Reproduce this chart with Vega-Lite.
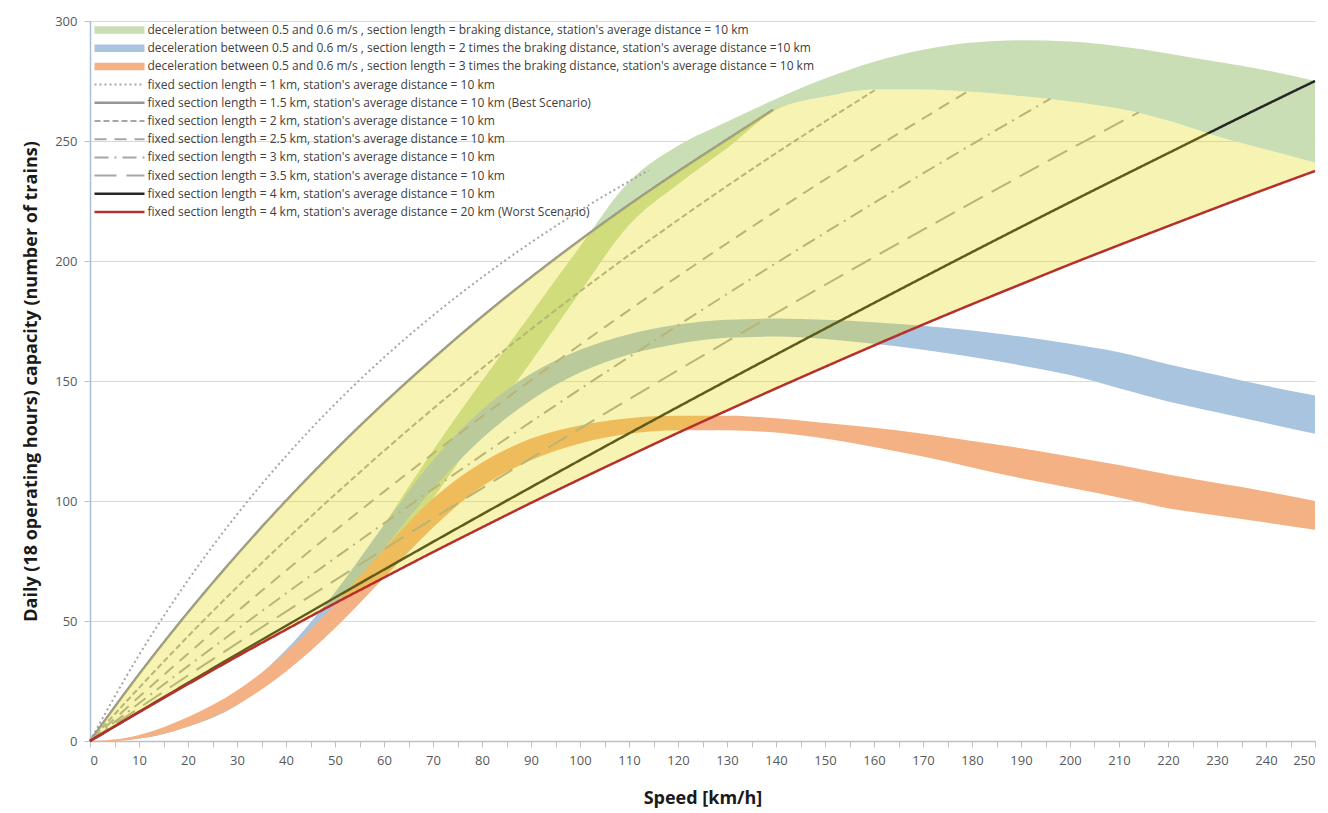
{
  "$schema": "https://vega.github.io/schema/vega-lite/v6.json",
  "width": 1225,
  "height": 720,
  "autosize": {"type": "none"},
  "padding": {"left": 90, "top": 21, "right": 13, "bottom": 72},
  "background": "white",
  "config": {
    "view": {"stroke": null},
    "font": "Open Sans",
    "legend": {"title": null, "orient": "top-left", "offset": 0, "symbolType": "M-3,0H3", "symbolSize": 278, "symbolOffset": 20.5,
      "labelOffset": 22, "labelFontSize": 12, "labelFont": "Open Sans", "labelColor": "#404040", "labelLimit": 900, "rowPadding": 6.2, "padding": 3}
  },
  "datasets": {
    "bands": [
      {"s":"g","v":0,"lo":0,"hi":0},{"s":"g","v":10,"lo":1,"hi":1.5},{"s":"g","v":20,"lo":6,"hi":8},{"s":"g","v":30,"lo":15,"hi":19},{"s":"g","v":40,"lo":31,"hi":36},{"s":"g","v":50,"lo":49,"hi":58},{"s":"g","v":60,"lo":73,"hi":90},{"s":"g","v":70,"lo":101,"hi":121},{"s":"g","v":80,"lo":130,"hi":150},{"s":"g","v":90,"lo":158,"hi":178},{"s":"g","v":100,"lo":187,"hi":206},{"s":"g","v":110,"lo":215,"hi":233},{"s":"g","v":120,"lo":232,"hi":248},{"s":"g","v":130,"lo":247,"hi":258},{"s":"g","v":140,"lo":263,"hi":267.5},{"s":"g","v":150,"lo":268.5,"hi":276},{"s":"g","v":160,"lo":271.5,"hi":283},{"s":"g","v":170,"lo":271.5,"hi":288},{"s":"g","v":180,"lo":270.5,"hi":291},{"s":"g","v":190,"lo":268.7,"hi":292},{"s":"g","v":200,"lo":266.5,"hi":291.5},{"s":"g","v":210,"lo":263.5,"hi":289.5},{"s":"g","v":220,"lo":258.5,"hi":286.5},{"s":"g","v":230,"lo":252,"hi":283},{"s":"g","v":240,"lo":246.5,"hi":279.5},{"s":"g","v":250,"lo":241,"hi":275},
      {"s":"b","v":0,"lo":0,"hi":0},{"s":"b","v":10,"lo":1,"hi":2},{"s":"b","v":20,"lo":6,"hi":8.5},{"s":"b","v":30,"lo":15,"hi":20},{"s":"b","v":40,"lo":33,"hi":38},{"s":"b","v":50,"lo":53,"hi":62},{"s":"b","v":60,"lo":80,"hi":90},{"s":"b","v":70,"lo":105,"hi":117},{"s":"b","v":80,"lo":126,"hi":138},{"s":"b","v":90,"lo":142,"hi":153},{"s":"b","v":100,"lo":153.5,"hi":163},{"s":"b","v":110,"lo":161,"hi":169.5},{"s":"b","v":120,"lo":165.5,"hi":173.5},{"s":"b","v":130,"lo":168,"hi":175.5},{"s":"b","v":140,"lo":168.5,"hi":176},{"s":"b","v":150,"lo":167.5,"hi":175.5},{"s":"b","v":160,"lo":165.5,"hi":174.5},{"s":"b","v":170,"lo":163,"hi":173},{"s":"b","v":180,"lo":160,"hi":171},{"s":"b","v":190,"lo":156.5,"hi":168.5},{"s":"b","v":200,"lo":152.5,"hi":165.5},{"s":"b","v":210,"lo":147,"hi":162},{"s":"b","v":220,"lo":141.5,"hi":157},{"s":"b","v":230,"lo":137,"hi":152.5},{"s":"b","v":240,"lo":132.5,"hi":148},{"s":"b","v":250,"lo":128,"hi":144},
      {"s":"o","v":0,"lo":0,"hi":0},{"s":"o","v":5,"lo":0,"hi":0.5},{"s":"o","v":10,"lo":1,"hi":2.5},{"s":"o","v":20,"lo":6,"hi":10},{"s":"o","v":30,"lo":15,"hi":21},{"s":"o","v":40,"lo":29,"hi":37},{"s":"o","v":50,"lo":47,"hi":57},{"s":"o","v":60,"lo":68,"hi":80},{"s":"o","v":70,"lo":89,"hi":101},{"s":"o","v":80,"lo":106,"hi":116},{"s":"o","v":90,"lo":117,"hi":126},{"s":"o","v":100,"lo":124,"hi":131.5},{"s":"o","v":110,"lo":128,"hi":134.5},{"s":"o","v":120,"lo":129.5,"hi":135.5},{"s":"o","v":130,"lo":129.5,"hi":135.5},{"s":"o","v":140,"lo":128.5,"hi":134.5},{"s":"o","v":150,"lo":126,"hi":132.5},{"s":"o","v":160,"lo":122.5,"hi":130.5},{"s":"o","v":170,"lo":118.5,"hi":128},{"s":"o","v":180,"lo":114,"hi":125},{"s":"o","v":190,"lo":109.5,"hi":122},{"s":"o","v":200,"lo":105.5,"hi":118.5},{"s":"o","v":210,"lo":101.5,"hi":115},{"s":"o","v":220,"lo":97,"hi":111},{"s":"o","v":230,"lo":94,"hi":107.5},{"s":"o","v":240,"lo":91,"hi":104},{"s":"o","v":250,"lo":88,"hi":100}
    ],
    "lines": [
      {"s":"l1","v":0,"lo":0},{"s":"l1","v":10,"lo":35.8},{"s":"l1","v":20,"lo":67},{"s":"l1","v":30,"lo":94.4},{"s":"l1","v":40,"lo":118.7},{"s":"l1","v":50,"lo":140.4},{"s":"l1","v":60,"lo":159.8},{"s":"l1","v":70,"lo":177.3},{"s":"l1","v":80,"lo":193.2},{"s":"l1","v":90,"lo":207.7},{"s":"l1","v":100,"lo":221},{"s":"l1","v":110,"lo":233.2},{"s":"l1","v":114,"lo":237.8},
      {"s":"l15","v":0,"lo":0},{"s":"l15","v":10,"lo":27.8},{"s":"l15","v":20,"lo":53.6},{"s":"l15","v":30,"lo":77.6},{"s":"l15","v":40,"lo":100.1},{"s":"l15","v":50,"lo":121.1},{"s":"l15","v":60,"lo":140.8},{"s":"l15","v":70,"lo":159.3},{"s":"l15","v":80,"lo":176.8},{"s":"l15","v":90,"lo":193.2},{"s":"l15","v":100,"lo":208.7},{"s":"l15","v":110,"lo":223.4},{"s":"l15","v":120,"lo":237.3},{"s":"l15","v":130,"lo":250.6},{"s":"l15","v":139.4,"lo":263},
      {"s":"l2","v":0,"lo":0},{"s":"l2","v":20,"lo":43.6},{"s":"l2","v":40,"lo":83.8},{"s":"l2","v":60,"lo":120.9},{"s":"l2","v":80,"lo":155.3},{"s":"l2","v":100,"lo":187.3},{"s":"l2","v":120,"lo":217.1},{"s":"l2","v":140,"lo":244.9},{"s":"l2","v":160.5,"lo":271.6},
      {"s":"l25","v":0,"lo":0},{"s":"l25","v":20,"lo":36.4},{"s":"l25","v":40,"lo":71},{"s":"l25","v":60,"lo":103.9},{"s":"l25","v":80,"lo":135.2},{"s":"l25","v":100,"lo":165.1},{"s":"l25","v":120,"lo":193.6},{"s":"l25","v":140,"lo":220.8},{"s":"l25","v":160,"lo":246.8},{"s":"l25","v":179,"lo":270.5},
      {"s":"l3","v":0,"lo":0},{"s":"l3","v":20,"lo":31.2},{"s":"l3","v":40,"lo":61.5},{"s":"l3","v":60,"lo":90.7},{"s":"l3","v":80,"lo":119.1},{"s":"l3","v":100,"lo":146.6},{"s":"l3","v":120,"lo":173.2},{"s":"l3","v":140,"lo":199.1},{"s":"l3","v":160,"lo":224.2},{"s":"l3","v":180,"lo":248.6},{"s":"l3","v":196,"lo":267.6},
      {"s":"l35","v":0,"lo":0},{"s":"l35","v":20,"lo":27.3},{"s":"l35","v":40,"lo":53.9},{"s":"l35","v":60,"lo":79.9},{"s":"l35","v":80,"lo":105.3},{"s":"l35","v":100,"lo":130.2},{"s":"l35","v":120,"lo":154.5},{"s":"l35","v":140,"lo":178.3},{"s":"l35","v":160,"lo":201.6},{"s":"l35","v":180,"lo":224.3},{"s":"l35","v":200,"lo":246.6},{"s":"l35","v":214,"lo":261.9},
      {"s":"l4","v":0,"lo":0},{"s":"l4","v":20,"lo":24.2},{"s":"l4","v":40,"lo":48},{"s":"l4","v":60,"lo":71.4},{"s":"l4","v":80,"lo":94.4},{"s":"l4","v":100,"lo":117},{"s":"l4","v":120,"lo":139.2},{"s":"l4","v":140,"lo":161},{"s":"l4","v":160,"lo":182.5},{"s":"l4","v":180,"lo":203.7},{"s":"l4","v":200,"lo":224.5},{"s":"l4","v":220,"lo":244.9},{"s":"l4","v":240,"lo":265.1},{"s":"l4","v":250,"lo":275},
      {"s":"l420","v":0,"lo":0},{"s":"l420","v":10,"lo":12},{"s":"l420","v":20,"lo":23.7},{"s":"l420","v":30,"lo":35.2},{"s":"l420","v":40,"lo":46.4},{"s":"l420","v":50,"lo":57.4},{"s":"l420","v":60,"lo":68.1},{"s":"l420","v":70,"lo":78.7},{"s":"l420","v":80,"lo":89},{"s":"l420","v":90,"lo":99.2},{"s":"l420","v":100,"lo":109.1},{"s":"l420","v":110,"lo":118.8},{"s":"l420","v":120,"lo":128.4},{"s":"l420","v":130,"lo":137.7},{"s":"l420","v":140,"lo":146.9},{"s":"l420","v":150,"lo":155.9},{"s":"l420","v":160,"lo":164.8},{"s":"l420","v":170,"lo":173.5},{"s":"l420","v":180,"lo":182},{"s":"l420","v":190,"lo":190.3},{"s":"l420","v":200,"lo":198.6},{"s":"l420","v":210,"lo":206.6},{"s":"l420","v":220,"lo":214.5},{"s":"l420","v":230,"lo":222.3},{"s":"l420","v":240,"lo":230},{"s":"l420","v":250,"lo":237.5}
    ],
    "yellow": [
      {"v":0,"lo":0,"hi":0},{"v":10,"lo":12,"hi":27.8},{"v":20,"lo":23.7,"hi":53.6},{"v":30,"lo":35.2,"hi":77.6},{"v":40,"lo":46.4,"hi":100.1},{"v":50,"lo":57.4,"hi":121.1},{"v":60,"lo":68.1,"hi":140.8},{"v":70,"lo":78.7,"hi":159.3},{"v":80,"lo":89,"hi":176.8},{"v":90,"lo":99.2,"hi":193.2},{"v":100,"lo":109.1,"hi":208.7},{"v":110,"lo":118.8,"hi":223.4},{"v":120,"lo":128.4,"hi":237.3},{"v":130,"lo":137.7,"hi":250.6},{"v":139.4,"lo":146.4,"hi":263},{"v":150,"lo":155.9,"hi":268.5},{"v":160,"lo":164.8,"hi":271.5},{"v":170,"lo":173.5,"hi":271.5},{"v":180,"lo":182,"hi":270.5},{"v":190,"lo":190.3,"hi":268.7},{"v":200,"lo":198.6,"hi":266.5},{"v":210,"lo":206.6,"hi":263.5},{"v":220,"lo":214.5,"hi":258.5},{"v":230,"lo":222.3,"hi":252},{"v":240,"lo":230,"hi":246.5},{"v":250,"lo":237.5,"hi":241}
    ]
  },
  "encoding": {
    "x": {"field": "v", "type": "quantitative", "scale": {"domain": [0, 250], "nice": false},
      "axis": {"values": [0,5,10,15,20,25,30,35,40,45,50,55,60,65,70,75,80,85,90,95,100,105,110,115,120,125,130,135,140,145,150,155,160,165,170,175,180,185,190,195,200,205,210,215,220,225,230,235,240,245,250],
        "labelExpr": "datum.value % 10 === 0 ? datum.label : ''",
        "grid": false, "tickSize": 6, "tickColor": "#bfbfbf", "domainColor": "#bfbfbf", "domainWidth": 1.5,
        "labelFontSize": 13, "labelColor": "#595959", "labelPadding": 7, "labelFont": "Open Sans",
        "title": "Speed [km/h]", "titleFontSize": 18, "titleFontWeight": "bold", "titleColor": "#1a1a1a", "titlePadding": 22, "titleFont": "Open Sans"}},
    "y": {"field": "lo", "type": "quantitative", "scale": {"domain": [0, 300], "nice": false},
      "axis": {"values": [0,50,100,150,200,250,300], "grid": true, "gridColor": "#d9d9d9", "tickSize": 6, "tickColor": "#bfbfbf",
        "domainColor": "#a9bfd6", "domainWidth": 1.5, "labelFontSize": 13, "labelColor": "#595959", "labelPadding": 7, "labelFont": "Open Sans",
        "title": "Daily (18 operating hours) capacity (number of trains)", "titleFontSize": 18, "titleFontWeight": "bold", "titleColor": "#1a1a1a", "titlePadding": 14, "titleFont": "Open Sans"}}
  },
  "layer": [
    {
      "data": {"name": "bands"},
      "mark": {"type": "area", "interpolate": "monotone", "opacity": 1},
      "encoding": {
        "y2": {"field": "hi"},
        "color": {"field": "s", "type": "nominal",
          "scale": {"domain": ["g","b","o","l1","l15","l2","l25","l3","l35","l4","l420"],
            "range": ["#c9deb4","#a9c4df","#f4b183","#a6a6a6","#959595","#a6a6a6","#a6a6a6","#a6a6a6","#a6a6a6","#262626","#b5302d"]},
          "legend": {"labelExpr": "({\"g\":\"deceleration between 0.5 and 0.6 m/s , section length = braking distance, station's average distance = 10 km\",\"b\":\"deceleration between 0.5 and 0.6 m/s , section length = 2 times the braking distance, station's average distance =10 km\",\"o\":\"deceleration between 0.5 and 0.6 m/s , section length = 3 times the braking distance, station's average distance = 10 km\",\"l1\":\"fixed section length = 1 km, station's average distance = 10 km\",\"l15\":\"fixed section length = 1.5 km, station's average distance = 10 km (Best Scenario)\",\"l2\":\"fixed section length = 2 km, station's average distance = 10 km\",\"l25\":\"fixed section length = 2.5 km, station's average distance = 10 km\",\"l3\":\"fixed section length = 3 km, station's average distance = 10 km\",\"l35\":\"fixed section length = 3.5 km, station's average distance = 10 km\",\"l4\":\"fixed section length = 4 km, station's average distance = 10 km\",\"l420\":\"fixed section length = 4 km, station's average distance = 20 km (Worst Scenario)\"})[datum.value]",
            "encode": {"symbols": {"update": {
              "shape": {"signal": "indexof(['g','b','o'], datum.value) >= 0 ? 'M-3,-0.45H3V0.45H-3Z' : 'M-3,0H3'"},
              "fill": {"signal": "indexof(['g','b','o'], datum.value) >= 0 ? scale('color', datum.value) : 'transparent'"},
              "strokeJoin": {"value": "bevel"},
              "strokeWidth": {"signal": "indexof(['g','b','o'], datum.value) >= 0 ? 0 : (indexof(['l15','l4','l420'], datum.value) >= 0 ? 2.5 : 2)"}}}}}}
      }
    },
    {
      "data": {"name": "lines"},
      "transform": [{"filter": "datum.s !== 'l420'"}],
      "mark": {"type": "line", "interpolate": "monotone", "strokeCap": "butt"},
      "encoding": {
        "color": {"field": "s", "type": "nominal",
          "legend": {"labelExpr": "({\"g\":\"deceleration between 0.5 and 0.6 m/s , section length = braking distance, station's average distance = 10 km\",\"b\":\"deceleration between 0.5 and 0.6 m/s , section length = 2 times the braking distance, station's average distance =10 km\",\"o\":\"deceleration between 0.5 and 0.6 m/s , section length = 3 times the braking distance, station's average distance = 10 km\",\"l1\":\"fixed section length = 1 km, station's average distance = 10 km\",\"l15\":\"fixed section length = 1.5 km, station's average distance = 10 km (Best Scenario)\",\"l2\":\"fixed section length = 2 km, station's average distance = 10 km\",\"l25\":\"fixed section length = 2.5 km, station's average distance = 10 km\",\"l3\":\"fixed section length = 3 km, station's average distance = 10 km\",\"l35\":\"fixed section length = 3.5 km, station's average distance = 10 km\",\"l4\":\"fixed section length = 4 km, station's average distance = 10 km\",\"l420\":\"fixed section length = 4 km, station's average distance = 20 km (Worst Scenario)\"})[datum.value]",
            "encode": {"symbols": {"update": {
              "shape": {"signal": "indexof(['g','b','o'], datum.value) >= 0 ? 'M-3,-0.45H3V0.45H-3Z' : 'M-3,0H3'"},
              "fill": {"signal": "indexof(['g','b','o'], datum.value) >= 0 ? scale('color', datum.value) : 'transparent'"},
              "strokeJoin": {"value": "bevel"},
              "strokeWidth": {"signal": "indexof(['g','b','o'], datum.value) >= 0 ? 0 : (indexof(['l15','l4','l420'], datum.value) >= 0 ? 2.5 : 2)"}}}}}},
        "strokeDash": {"field": "s", "type": "nominal",
          "scale": {"domain": ["g","b","o","l1","l15","l2","l25","l3","l35","l4","l420"],
            "range": [[1,0],[1,0],[1,0],[2,3],[1,0],[6,3],[12,8],[14,6,2,6],[22,10],[1,0],[1,0]]},
          "legend": {"labelExpr": "({\"g\":\"deceleration between 0.5 and 0.6 m/s , section length = braking distance, station's average distance = 10 km\",\"b\":\"deceleration between 0.5 and 0.6 m/s , section length = 2 times the braking distance, station's average distance =10 km\",\"o\":\"deceleration between 0.5 and 0.6 m/s , section length = 3 times the braking distance, station's average distance = 10 km\",\"l1\":\"fixed section length = 1 km, station's average distance = 10 km\",\"l15\":\"fixed section length = 1.5 km, station's average distance = 10 km (Best Scenario)\",\"l2\":\"fixed section length = 2 km, station's average distance = 10 km\",\"l25\":\"fixed section length = 2.5 km, station's average distance = 10 km\",\"l3\":\"fixed section length = 3 km, station's average distance = 10 km\",\"l35\":\"fixed section length = 3.5 km, station's average distance = 10 km\",\"l4\":\"fixed section length = 4 km, station's average distance = 10 km\",\"l420\":\"fixed section length = 4 km, station's average distance = 20 km (Worst Scenario)\"})[datum.value]",
            "encode": {"symbols": {"update": {
              "shape": {"signal": "indexof(['g','b','o'], datum.value) >= 0 ? 'M-3,-0.45H3V0.45H-3Z' : 'M-3,0H3'"},
              "fill": {"signal": "indexof(['g','b','o'], datum.value) >= 0 ? scale('color', datum.value) : 'transparent'"},
              "strokeJoin": {"value": "bevel"},
              "strokeWidth": {"signal": "indexof(['g','b','o'], datum.value) >= 0 ? 0 : (indexof(['l15','l4','l420'], datum.value) >= 0 ? 2.5 : 2)"}}}}}},
        "strokeWidth": {"field": "s", "type": "nominal",
          "scale": {"type": "ordinal", "domain": ["g","b","o","l1","l15","l2","l25","l3","l35","l4","l420"],
            "range": [9,9,9,2,2.5,2,2,2,2,2.5,2.5]},
          "legend": null}
      }
    },
    {
      "data": {"name": "yellow"},
      "mark": {"type": "area", "interpolate": "monotone", "color": "#e6d800", "opacity": 0.3},
      "encoding": {
        "y2": {"field": "hi"}
      }
    },
    {
      "data": {"name": "lines"},
      "transform": [{"filter": "datum.s === 'l420'"}],
      "mark": {"type": "line", "interpolate": "monotone", "strokeCap": "butt"},
      "encoding": {
        "color": {"field": "s", "type": "nominal",
          "legend": {"labelExpr": "({\"g\":\"deceleration between 0.5 and 0.6 m/s , section length = braking distance, station's average distance = 10 km\",\"b\":\"deceleration between 0.5 and 0.6 m/s , section length = 2 times the braking distance, station's average distance =10 km\",\"o\":\"deceleration between 0.5 and 0.6 m/s , section length = 3 times the braking distance, station's average distance = 10 km\",\"l1\":\"fixed section length = 1 km, station's average distance = 10 km\",\"l15\":\"fixed section length = 1.5 km, station's average distance = 10 km (Best Scenario)\",\"l2\":\"fixed section length = 2 km, station's average distance = 10 km\",\"l25\":\"fixed section length = 2.5 km, station's average distance = 10 km\",\"l3\":\"fixed section length = 3 km, station's average distance = 10 km\",\"l35\":\"fixed section length = 3.5 km, station's average distance = 10 km\",\"l4\":\"fixed section length = 4 km, station's average distance = 10 km\",\"l420\":\"fixed section length = 4 km, station's average distance = 20 km (Worst Scenario)\"})[datum.value]",
            "encode": {"symbols": {"update": {
              "shape": {"signal": "indexof(['g','b','o'], datum.value) >= 0 ? 'M-3,-0.45H3V0.45H-3Z' : 'M-3,0H3'"},
              "fill": {"signal": "indexof(['g','b','o'], datum.value) >= 0 ? scale('color', datum.value) : 'transparent'"},
              "strokeJoin": {"value": "bevel"},
              "strokeWidth": {"signal": "indexof(['g','b','o'], datum.value) >= 0 ? 0 : (indexof(['l15','l4','l420'], datum.value) >= 0 ? 2.5 : 2)"}}}}}},
        "strokeDash": {"field": "s", "type": "nominal",
          "legend": {"labelExpr": "({\"g\":\"deceleration between 0.5 and 0.6 m/s , section length = braking distance, station's average distance = 10 km\",\"b\":\"deceleration between 0.5 and 0.6 m/s , section length = 2 times the braking distance, station's average distance =10 km\",\"o\":\"deceleration between 0.5 and 0.6 m/s , section length = 3 times the braking distance, station's average distance = 10 km\",\"l1\":\"fixed section length = 1 km, station's average distance = 10 km\",\"l15\":\"fixed section length = 1.5 km, station's average distance = 10 km (Best Scenario)\",\"l2\":\"fixed section length = 2 km, station's average distance = 10 km\",\"l25\":\"fixed section length = 2.5 km, station's average distance = 10 km\",\"l3\":\"fixed section length = 3 km, station's average distance = 10 km\",\"l35\":\"fixed section length = 3.5 km, station's average distance = 10 km\",\"l4\":\"fixed section length = 4 km, station's average distance = 10 km\",\"l420\":\"fixed section length = 4 km, station's average distance = 20 km (Worst Scenario)\"})[datum.value]",
            "encode": {"symbols": {"update": {
              "shape": {"signal": "indexof(['g','b','o'], datum.value) >= 0 ? 'M-3,-0.45H3V0.45H-3Z' : 'M-3,0H3'"},
              "fill": {"signal": "indexof(['g','b','o'], datum.value) >= 0 ? scale('color', datum.value) : 'transparent'"},
              "strokeJoin": {"value": "bevel"},
              "strokeWidth": {"signal": "indexof(['g','b','o'], datum.value) >= 0 ? 0 : (indexof(['l15','l4','l420'], datum.value) >= 0 ? 2.5 : 2)"}}}}}},
        "strokeWidth": {"field": "s", "type": "nominal", "legend": null}
      }
    }
  ]
}
